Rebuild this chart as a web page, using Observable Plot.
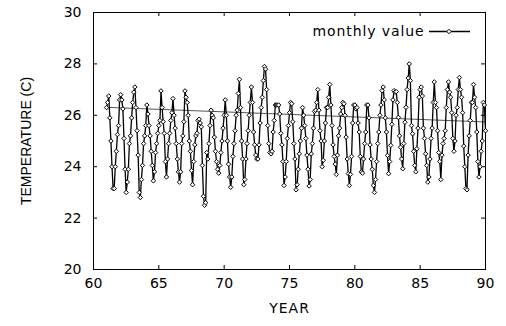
<!DOCTYPE html>
<html>
<head>
<meta charset="utf-8">
<script src="https://cdn.jsdelivr.net/npm/d3@7"></script>
<script src="https://cdn.jsdelivr.net/npm/@observablehq/plot@0.6"></script>
<style>
  html, body { margin: 0; padding: 0; background: #fff; }
  #chart { width: 506px; height: 326px; }
</style>
</head>
<body>
<div id="chart"></div>
<script>
// Monthly mean temperature, January 1961 onward (one value per month).
const startYear = 61;

const values1960s = [
  26.3, 26.5, 26.75, 25.9, 25.0, 24.0, 23.15, 23.15, 24.0, 24.6, 25.25, 25.6,   // 1961
  26.6, 26.8, 26.6, 26.25, 25.1, 23.9, 23.0, 23.4, 23.9, 24.9, 25.2, 25.9,      // 1962
  26.5, 26.9, 27.1, 26.3, 25.4, 24.45, 23.0, 22.8, 23.5, 24.05, 24.9, 25.2,     // 1963
  25.6, 26.4, 26.05, 25.6, 25.2, 24.6, 24.05, 23.45, 23.8, 24.55, 24.9, 25.3,   // 1964
  25.6, 25.8, 26.95, 26.3, 25.75, 25.3, 24.2, 23.6, 24.3, 24.9, 25.3, 25.8,     // 1965
  26.1, 26.65, 26.0, 25.5, 24.9, 24.3, 23.8, 23.4, 23.8, 24.9, 25.2, 25.75,     // 1966
  26.95, 26.7, 26.5, 26.0, 25.0, 24.6, 23.85, 23.3, 24.2, 24.85, 25.2, 25.3,    // 1967
  25.8, 25.85, 25.7, 25.55, 24.05, 22.85, 22.5, 22.6, 24.55, 24.3, 24.9, 25.6,  // 1968
  26.2, 26.0, 25.9, 25.15, 24.6, 24.2, 23.9, 23.75, 24.05, 24.55, 25.0, 25.5    // 1969
];

const values1970s = [
  26.0, 26.6, 26.0, 25.0, 24.1, 23.6, 23.2, 23.6, 24.4, 24.9, 25.4, 26.0,       // 1970
  26.2, 26.85, 27.4, 26.3, 25.0, 24.3, 23.3, 23.5, 24.3, 24.9, 25.4, 26.0,      // 1971
  26.5, 27.1, 26.5, 25.35, 24.85, 24.45, 24.3, 24.3, 24.85, 25.7, 26.3, 26.7,   // 1972
  27.35, 27.9, 27.8, 27.0, 25.6, 24.9, 24.55, 24.5, 24.6, 25.35, 25.8, 26.4,    // 1973
  26.4, 26.4, 26.4, 26.05, 25.3, 24.85, 24.2, 23.27, 23.6, 24.2, 25.1, 25.6,    // 1974
  26.1, 26.5, 26.45, 25.75, 24.9, 24.3, 23.1, 23.3, 23.9, 24.5, 25.0, 25.5,     // 1975
  26.3, 26.0, 25.6, 25.1, 24.45, 23.9, 23.25, 23.5, 24.5, 24.9, 25.5, 26.15,    // 1976
  26.2, 26.5, 27.0, 26.2, 25.4, 25.0, 24.0, 24.25, 25.0, 25.7, 26.3, 26.3,      // 1977
  26.7, 27.2, 26.4, 25.6, 24.85, 24.4, 24.1, 23.7, 24.45, 25.2, 25.5, 26.05,    // 1978
  26.3, 26.5, 26.45, 26.0, 25.15, 24.3, 23.73, 23.27, 23.7, 24.4, 25.7, 26.4    // 1979
];

const values1980s = [
  26.4, 26.25, 26.3, 25.7, 25.35, 24.4, 23.8, 23.75, 24.3, 24.9, 25.35, 26.4,   // 1980
  26.4, 25.9, 24.85, 24.3, 23.9, 23.27, 23.0, 23.5, 24.2, 24.9, 25.35, 26.0,    // 1981
  26.4, 26.96, 27.1, 26.6, 25.9, 25.35, 24.44, 23.73, 24.2, 24.83, 25.65, 26.6, // 1982
  26.96, 26.9, 26.92, 26.5, 25.92, 25.2, 24.76, 24.3, 23.92, 24.9, 25.73, 26.31,// 1983
  27.0, 27.45, 28.0, 27.35, 25.6, 25.28, 24.6, 24.05, 23.8, 24.7, 25.5, 26.7,   // 1984
  27.0, 27.1, 26.75, 25.5, 25.1, 24.5, 24.05, 23.4, 23.6, 24.3, 25.1, 25.5,     // 1985
  26.5, 27.3, 26.5, 26.3, 25.4, 24.55, 24.2, 23.5, 24.45, 24.9, 25.1, 25.4,     // 1986
  26.3, 27.0, 27.3, 26.9, 26.7, 26.1, 25.1, 24.6, 25.0, 26.0, 26.3, 27.0,       // 1987
  27.47, 27.0, 26.7, 26.1, 24.8, 24.0, 23.15, 23.1, 24.45, 25.2, 25.8, 26.5,    // 1988
  26.5, 27.2, 26.7, 26.3, 25.35, 24.2, 23.6, 24.0, 24.6, 25.0, 26.5, 26.4,      // 1989
  25.4                                                                          // 1990
];

// Linear trend over the record
const trendYears = [61, 90];
const trendValues = [26.31, 25.74];

const xTicks = [60, 65, 70, 75, 80, 85, 90];
const yTicks = [20, 22, 24, 26, 28, 30];
const seriesLabel = "monthly value";

const monthly = [...values1960s, ...values1970s, ...values1980s]
  .map((v, i) => ({year: startYear + i / 12, value: v}));
const trend = trendYears.map((yr, i) => ({year: yr, value: trendValues[i]}));

const W = 506, H = 326;
const mTop = 12, mRight = 21, mBottom = 57, mLeft = 93;
const innerW = W - mLeft - mRight;
const innerH = H - mTop - mBottom;
const tickLen = 4;

const chart = Plot.plot({
  width: W,
  height: H,
  marginTop: mTop,
  marginRight: mRight,
  marginBottom: mBottom,
  marginLeft: mLeft,
  style: {fontFamily: "'DejaVu Sans', sans-serif", fontSize: "14px", color: "#000", background: "#fff"},
  x: {domain: [60, 90]},
  y: {domain: [20, 30]},
  marks: [
    Plot.frame({stroke: "#000", strokeWidth: 1}),
    // inward ticks on all four sides
    Plot.tickX(xTicks, {x: d => d, insetTop: innerH - tickLen, stroke: "#000"}),
    Plot.tickX(xTicks, {x: d => d, insetBottom: innerH - tickLen, stroke: "#000"}),
    Plot.tickY(yTicks, {y: d => d, insetRight: innerW - tickLen, stroke: "#000"}),
    Plot.tickY(yTicks, {y: d => d, insetLeft: innerW - tickLen, stroke: "#000"}),
    Plot.axisX({ticks: xTicks, tickSize: 0, tickPadding: 9, tickFormat: d => String(d),
      label: "YEAR", labelAnchor: "center", labelOffset: 43, labelArrow: "none"}),
    Plot.axisY({ticks: yTicks, tickSize: 0, tickPadding: 12, tickFormat: d => String(d),
      label: "TEMPERATURE (C)", labelAnchor: "center", labelOffset: 72, labelArrow: "none"}),
    Plot.line(trend, {x: "year", y: "value", stroke: "#555", strokeWidth: 1}),
    Plot.line(monthly, {x: "year", y: "value", stroke: "#000", strokeWidth: 1.3}),
    Plot.dot(monthly, {x: "year", y: "value", symbol: "diamond2", r: 2, stroke: "#000", fill: "#fff", strokeWidth: 1}),
    Plot.text([seriesLabel], {text: d => d, frameAnchor: "top-right", textAnchor: "end",
      lineAnchor: "middle", dx: -61, dy: 19, fill: "#000"})
  ]
});

document.getElementById("chart").appendChild(chart);

const svg = d3.select(chart);

// y-axis title in a narrower face
svg.selectAll('g[aria-label="y-axis label"] text')
  .attr("font-family", "'Liberation Sans', Arial, sans-serif");
// x-axis title and legend text run a little wider
svg.selectAll('g[aria-label="x-axis label"] text')
  .attr("letter-spacing", "1px");
svg.selectAll('g[aria-label="text"] text')
  .attr("letter-spacing", "0.9px");

// legend sample: line with a marker
const legend = svg.append("g").attr("aria-label", "legend sample");
legend.append("line")
  .attr("x1", 429).attr("x2", 470).attr("y1", 31.5).attr("y2", 31.5)
  .attr("stroke", "#000").attr("stroke-width", 1.3);
legend.append("path")
  .attr("transform", "translate(449,31.5)")
  .attr("d", d3.symbol(d3.symbolDiamond2, Math.PI * 2 * 2)())
  .attr("fill", "#fff").attr("stroke", "#000").attr("stroke-width", 1);
</script>
</body>
</html>
